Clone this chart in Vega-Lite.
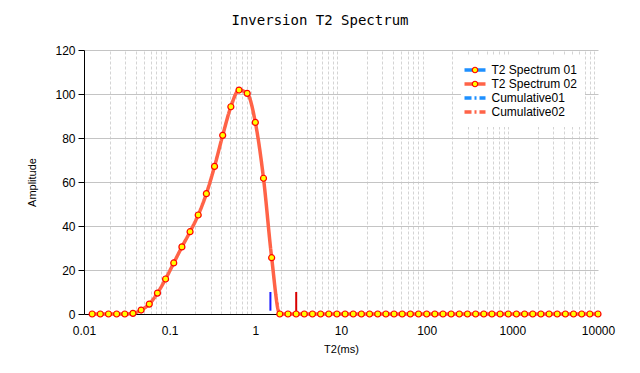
{
  "$schema": "https://vega.github.io/schema/vega-lite/v6.json",
  "width": 514,
  "height": 264,
  "autosize": {"type": "none"},
  "padding": {"left": 84, "top": 50, "right": 42, "bottom": 59},
  "background": "white",
  "title": {"text": "Inversion T2 Spectrum", "font": "DejaVu Sans Mono", "fontSize": 14, "fontWeight": "normal", "color": "#000000", "anchor": "middle", "dx": -21, "offset": 16},
  "config": {
    "view": {"stroke": null},
    "axis": {"labelFont": "Liberation Sans", "titleFont": "Liberation Sans", "labelColor": "#000000", "titleColor": "#000000", "titleFontWeight": "normal"},
    "legend": {"labelFont": "Liberation Sans"}
  },
  "datasets": {
    "spectrum": [
      {"t2": 0.012452, "amplitude": 0, "series": "T2 Spectrum 02"},
      {"t2": 0.015505, "amplitude": 0, "series": "T2 Spectrum 02"},
      {"t2": 0.019307, "amplitude": 0, "series": "T2 Spectrum 02"},
      {"t2": 0.024041, "amplitude": 0, "series": "T2 Spectrum 02"},
      {"t2": 0.029936, "amplitude": 0, "series": "T2 Spectrum 02"},
      {"t2": 0.037276, "amplitude": 0.3, "series": "T2 Spectrum 02"},
      {"t2": 0.046416, "amplitude": 1.8, "series": "T2 Spectrum 02"},
      {"t2": 0.057797, "amplitude": 4.5, "series": "T2 Spectrum 02"},
      {"t2": 0.071969, "amplitude": 9.5, "series": "T2 Spectrum 02"},
      {"t2": 0.089615, "amplitude": 15.9, "series": "T2 Spectrum 02"},
      {"t2": 0.11159, "amplitude": 23.2, "series": "T2 Spectrum 02"},
      {"t2": 0.13895, "amplitude": 30.5, "series": "T2 Spectrum 02"},
      {"t2": 0.17302, "amplitude": 37.4, "series": "T2 Spectrum 02"},
      {"t2": 0.21544, "amplitude": 45.0, "series": "T2 Spectrum 02"},
      {"t2": 0.26827, "amplitude": 54.7, "series": "T2 Spectrum 02"},
      {"t2": 0.33405, "amplitude": 67.1, "series": "T2 Spectrum 02"},
      {"t2": 0.41596, "amplitude": 81.2, "series": "T2 Spectrum 02"},
      {"t2": 0.51795, "amplitude": 94.2, "series": "T2 Spectrum 02"},
      {"t2": 0.64495, "amplitude": 101.8, "series": "T2 Spectrum 02"},
      {"t2": 0.80309, "amplitude": 100.3, "series": "T2 Spectrum 02"},
      {"t2": 1.0, "amplitude": 87.1, "series": "T2 Spectrum 02"},
      {"t2": 1.2452, "amplitude": 61.7, "series": "T2 Spectrum 02"},
      {"t2": 1.5505, "amplitude": 25.6, "series": "T2 Spectrum 02"},
      {"t2": 1.9307, "amplitude": 0, "series": "T2 Spectrum 02"},
      {"t2": 2.4041, "amplitude": 0, "series": "T2 Spectrum 02"},
      {"t2": 2.9936, "amplitude": 0, "series": "T2 Spectrum 02"},
      {"t2": 3.7276, "amplitude": 0, "series": "T2 Spectrum 02"},
      {"t2": 4.6416, "amplitude": 0, "series": "T2 Spectrum 02"},
      {"t2": 5.7797, "amplitude": 0, "series": "T2 Spectrum 02"},
      {"t2": 7.1969, "amplitude": 0, "series": "T2 Spectrum 02"},
      {"t2": 8.9615, "amplitude": 0, "series": "T2 Spectrum 02"},
      {"t2": 11.159, "amplitude": 0, "series": "T2 Spectrum 02"},
      {"t2": 13.895, "amplitude": 0, "series": "T2 Spectrum 02"},
      {"t2": 17.302, "amplitude": 0, "series": "T2 Spectrum 02"},
      {"t2": 21.544, "amplitude": 0, "series": "T2 Spectrum 02"},
      {"t2": 26.827, "amplitude": 0, "series": "T2 Spectrum 02"},
      {"t2": 33.405, "amplitude": 0, "series": "T2 Spectrum 02"},
      {"t2": 41.596, "amplitude": 0, "series": "T2 Spectrum 02"},
      {"t2": 51.795, "amplitude": 0, "series": "T2 Spectrum 02"},
      {"t2": 64.495, "amplitude": 0, "series": "T2 Spectrum 02"},
      {"t2": 80.309, "amplitude": 0, "series": "T2 Spectrum 02"},
      {"t2": 100, "amplitude": 0, "series": "T2 Spectrum 02"},
      {"t2": 124.52, "amplitude": 0, "series": "T2 Spectrum 02"},
      {"t2": 155.05, "amplitude": 0, "series": "T2 Spectrum 02"},
      {"t2": 193.07, "amplitude": 0, "series": "T2 Spectrum 02"},
      {"t2": 240.41, "amplitude": 0, "series": "T2 Spectrum 02"},
      {"t2": 299.36, "amplitude": 0, "series": "T2 Spectrum 02"},
      {"t2": 372.76, "amplitude": 0, "series": "T2 Spectrum 02"},
      {"t2": 464.16, "amplitude": 0, "series": "T2 Spectrum 02"},
      {"t2": 577.97, "amplitude": 0, "series": "T2 Spectrum 02"},
      {"t2": 719.69, "amplitude": 0, "series": "T2 Spectrum 02"},
      {"t2": 896.15, "amplitude": 0, "series": "T2 Spectrum 02"},
      {"t2": 1115.9, "amplitude": 0, "series": "T2 Spectrum 02"},
      {"t2": 1389.5, "amplitude": 0, "series": "T2 Spectrum 02"},
      {"t2": 1730.2, "amplitude": 0, "series": "T2 Spectrum 02"},
      {"t2": 2154.4, "amplitude": 0, "series": "T2 Spectrum 02"},
      {"t2": 2682.7, "amplitude": 0, "series": "T2 Spectrum 02"},
      {"t2": 3340.5, "amplitude": 0, "series": "T2 Spectrum 02"},
      {"t2": 4159.6, "amplitude": 0, "series": "T2 Spectrum 02"},
      {"t2": 5179.5, "amplitude": 0, "series": "T2 Spectrum 02"},
      {"t2": 6449.5, "amplitude": 0, "series": "T2 Spectrum 02"},
      {"t2": 8030.9, "amplitude": 0, "series": "T2 Spectrum 02"},
      {"t2": 10000, "amplitude": 0, "series": "T2 Spectrum 02"}
    ],
    "markers": [
      {"t2": 1.5, "lo": 1.5, "hi": 10, "marker": "01"},
      {"t2": 3.0, "lo": 0, "hi": 10, "marker": "02"}
    ]
  },
  "layer": [
    {
      "data": {"name": "markers"},
      "mark": {"type": "rule", "strokeWidth": 2},
      "encoding": {
        "x": {
          "field": "t2", "type": "quantitative",
          "scale": {"type": "log", "domain": [0.01, 10000], "nice": false},
          "axis": {"orient": "top", "values": [0.02,0.03,0.04,0.05,0.06,0.07,0.08,0.09,0.2,0.3,0.4,0.5,0.6,0.7,0.8,0.9,2,3,4,5,6,7,8,9,20,30,40,50,60,70,80,90,200,300,400,500,600,700,800,900,2000,3000,4000,5000,6000,7000,8000,9000],
                   "labels": false, "ticks": false, "domain": false, "grid": true, "gridColor": "#d4d4d4", "gridDash": [3, 2], "title": null}
        },
        "y": {
          "field": "lo", "type": "quantitative",
          "scale": {"domain": [0, 120], "nice": false},
          "axis": {"values": [0, 20, 40, 60, 80, 100, 120], "title": "Amplitude", "titleFontSize": 11, "labelFontSize": 12, "tickSize": 6, "tickColor": "#000000", "domainColor": "#000000", "gridColor": "#c4c4c4", "labelPadding": 3, "titlePadding": 17}
        },
        "y2": {"field": "hi"},
        "stroke": {"field": "marker", "type": "nominal", "scale": {"domain": ["01", "02"], "range": ["#1818ff", "#d80000"]}, "legend": null}
      }
    },
    {
      "data": {"name": "spectrum"},
      "mark": {"type": "line", "interpolate": "monotone"},
      "encoding": {
        "x": {
          "field": "t2", "type": "quantitative",
          "axis": {"orient": "bottom", "values": [0.01, 0.1, 1, 10, 100, 1000, 10000], "format": "~g", "title": "T2(ms)", "titleFontSize": 11, "labelFontSize": 12, "ticks": false, "tickSize": 0, "labelPadding": 11, "titlePadding": 7, "domainColor": "#000000", "gridColor": "#c4c4c4", "labelFlush": false, "labelOverlap": false}
        },
        "y": {"field": "amplitude", "type": "quantitative"},
        "color": {
          "field": "series", "type": "nominal",
          "scale": {"domain": ["T2 Spectrum 01", "T2 Spectrum 02", "Cumulative01", "Cumulative02"], "range": ["#1e90ff", "#ff6347", "#1e90ff", "#ff6347"]},
          "legend": {"title": null, "orient": "none", "legendX": 377, "legendY": 6, "padding": 8, "fillColor": "white", "symbolType": "M-3,0H3", "symbolSize": 49, "labelFontSize": 12, "labelOffset": 10.5, "rowPadding": 0, "labelColor": "#000000"}
        },
        "strokeDash": {
          "field": "series", "type": "nominal",
          "scale": {"domain": ["T2 Spectrum 01", "T2 Spectrum 02", "Cumulative01", "Cumulative02"], "range": [[1, 0], [1, 0], [7, 3, 2, 3], [7, 3, 2, 3]]}
        },
        "strokeWidth": {
          "field": "series", "type": "ordinal",
          "scale": {"domain": ["T2 Spectrum 01", "T2 Spectrum 02", "Cumulative01", "Cumulative02"], "range": [3.5, 3.5, 2, 2]}
        }
      }
    },
    {
      "data": {"name": "spectrum"},
      "mark": {"type": "point", "filled": true, "size": 36, "stroke": "#ff0000", "strokeWidth": 1.2, "opacity": 1},
      "encoding": {
        "x": {"field": "t2", "type": "quantitative", "axis": null},
        "y": {"field": "amplitude", "type": "quantitative"},
        "fill": {
          "field": "series", "type": "nominal",
          "scale": {"domain": ["T2 Spectrum 01", "T2 Spectrum 02"], "range": ["#ffff00", "#ffff00"]},
          "legend": {"title": null, "orient": "none", "legendX": 377, "legendY": 6, "padding": 8, "symbolType": "circle", "symbolSize": 30, "symbolStrokeWidth": 1.2, "labelExpr": "''", "labelFontSize": 12, "rowPadding": 2,
                     "encode": {"symbols": {"update": {"stroke": {"signal": "datum.value === 'T2 Spectrum 01' ? '#1f8f1f' : '#ff0000'"}}}}}
        }
      }
    }
  ],
  "resolve": {"axis": {"x": "independent"}}
}
